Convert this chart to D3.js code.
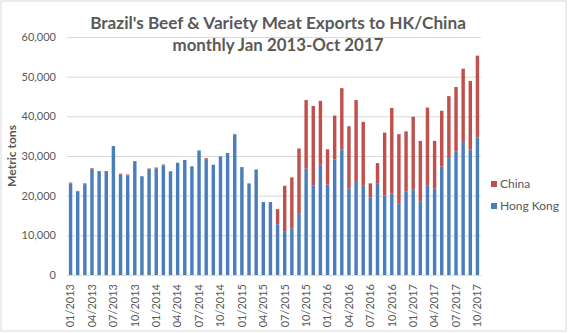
<!DOCTYPE html>
<html><head><meta charset="utf-8">
<script src="https://cdn.jsdelivr.net/npm/d3@7"></script>
<style>body{margin:0;background:#fff}svg{display:block}text{font-family:Lato,"Open Sans",sans-serif}</style>
</head><body><svg id="c" width="568" height="333"></svg>
<script>
const months = [];
for (let y = 2013; y <= 2017; y++) for (let m = 1; m <= 12; m++) { if (y === 2017 && m > 10) break; months.push(String(m).padStart(2,"0") + "/" + y); }
const hongKong = [23100,21000,22900,26700,26200,26200,32500,25300,25100,28700,24900,26700,
 26900,27600,26000,28300,29000,27400,31400,29200,27800,29900,30500,35500,
 27200,23100,26600,18400,18400,12800,10900,11800,15600,26800,22600,27800,
 22800,29100,31600,21800,23700,22600,19600,23000,20100,20600,18100,21000,
 21600,18500,22600,21800,27300,29500,31200,33500,31600,34700];
const china = [200,200,200,200,0,0,0,250,250,0,0,150,
 200,250,150,0,0,0,0,250,0,0,250,0,
 0,0,0,0,0,3800,11600,12800,16300,17300,20000,16100,
 8900,11100,15500,15700,20400,16000,3500,5200,15800,21500,17400,15200,
 18300,15300,19600,12000,14100,15600,16200,18500,17300,20600];
const yTicks = [0,10000,20000,30000,40000,50000,60000];
const seriesNames = ["Hong Kong","China"];
const colors = {"Hong Kong":"#4a7ebb","China":"#c0504d"};
const titleLines = ["Brazil's Beef & Variety Meat Exports to HK/China","monthly Jan 2013-Oct 2017"];

const svg = d3.select("#c");
svg.append("rect").attr("x",1).attr("y",1).attr("width",565).attr("height",330).attr("fill","#fff").attr("stroke","#d9d9d9");

const x0 = 67, x1 = 481, yTop = 37, yBot = 275;
const x = d3.scaleBand().domain(months).range([x0,x1]).paddingInner(0.52).paddingOuter(0.26);
const y = d3.scaleLinear().domain([0,60000]).range([yBot,yTop]);

svg.append("g").selectAll("line").data(yTicks).join("line")
  .attr("x1",x0).attr("x2",x1).attr("y1",d=>y(d)+0.5).attr("y2",d=>y(d)+0.5)
  .attr("stroke","#d9d9d9").attr("stroke-width",1);

const table = months.map((m,i)=>({month:m,"Hong Kong":hongKong[i],"China":china[i]}));
const stack = d3.stack().keys(seriesNames)(table);
svg.append("g").selectAll("g").data(stack).join("g").attr("fill",d=>colors[d.key])
  .selectAll("rect").data(d=>d).join("rect")
  .attr("x",d=>x(d.data.month)).attr("width",x.bandwidth())
  .attr("y",d=>y(d[1])).attr("height",d=>Math.max(0,y(d[0])-y(d[1])));

const yAxis = d3.axisLeft(y).tickValues(yTicks).tickFormat(d3.format(",")).tickSize(0).tickPadding(11);
const ya = svg.append("g").attr("transform",`translate(${x0},0)`).call(yAxis);
ya.select(".domain").remove();
ya.selectAll("text").attr("fill","#595959").style("font-size","11px");

const xAxis = d3.axisBottom(x).tickValues(months.filter((m,i)=>i%3===0)).tickSize(0);
const xa = svg.append("g").attr("transform",`translate(0,${yBot})`).call(xAxis);
xa.select(".domain").attr("stroke","#d9d9d9");
xa.selectAll("text").attr("fill","#595959").style("font-size","11px")
  .attr("transform","rotate(-90)").attr("text-anchor","end").attr("dx","-9px").attr("dy","0.35em").attr("y",0).attr("x",0);

const yt = svg.append("text").attr("transform","translate(16,156) rotate(-90)").attr("text-anchor","middle")
  .attr("fill","#595959").style("font-size","12px").style("font-weight","bold").text("Metric tons");
yt.style("font-size",(12*62/yt.node().getComputedTextLength()).toFixed(2)+"px");

const tw = [376, 211], tb = [29, 51];
titleLines.forEach((t,i)=>{
  const el = svg.append("text").attr("x",278).attr("y",tb[i]).attr("text-anchor","middle")
    .attr("fill","#595959").style("font-weight","bold").style("font-size","16px").text(t);
  const w = el.node().getComputedTextLength();
  el.style("font-size",(16*tw[i]/w).toFixed(2)+"px");
});

const legendOrder = ["China","Hong Kong"];
const lg = svg.append("g").selectAll("g").data(legendOrder).join("g")
  .attr("transform",(d,i)=>`translate(491,${181+i*22})`);
lg.append("rect").attr("width",6).attr("height",6).attr("fill",d=>colors[d]);
lg.append("text").attr("x",9).attr("y",6.5).attr("fill","#595959").style("font-size","12px").text(d=>d);
</script></body></html>
